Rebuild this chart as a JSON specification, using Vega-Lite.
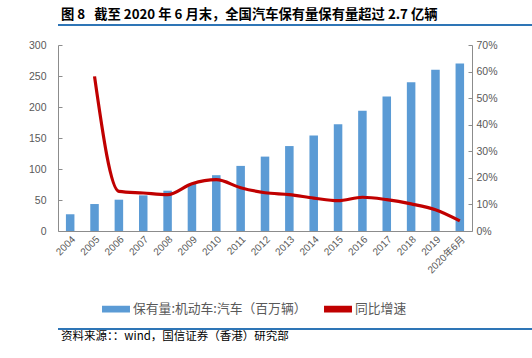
{
  "$schema": "https://vega.github.io/schema/vega-lite/v6.json",
  "padding": {"left": 0, "right": 0, "top": 7, "bottom": 0},
  "background": "white",
  "config": {
    "view": {"stroke": null},
    "font": "Noto Sans CJK SC",
    "concat": {"spacing": 14},
    "axis": {"grid": false}
  },
  "resolve": {"scale": {"x": "independent", "y": "independent"}, "axis": {"x": "independent", "y": "independent"}},
  "datasets": {
    "cars": [
      {"年份": "2004", "保有量": 27, "增速": null},
      {"年份": "2005", "保有量": 43.5, "增速": 58.2},
      {"年份": "2006", "保有量": 50.5, "增速": 14.9},
      {"年份": "2007", "保有量": 57.5, "增速": 14.3},
      {"年份": "2008", "保有量": 65, "增速": 13.7},
      {"年份": "2009", "保有量": 76, "增速": 17.8},
      {"年份": "2010", "保有量": 90, "增速": 19.3},
      {"年份": "2011", "保有量": 105, "增速": 16.3},
      {"年份": "2012", "保有量": 120, "增速": 14.4},
      {"年份": "2013", "保有量": 137, "增速": 13.7},
      {"年份": "2014", "保有量": 154, "增速": 12.4},
      {"年份": "2015", "保有量": 172, "增速": 11.4},
      {"年份": "2016", "保有量": 194, "增速": 12.7},
      {"年份": "2017", "保有量": 217, "增速": 11.8},
      {"年份": "2018", "保有量": 240, "增速": 10.2},
      {"年份": "2019", "保有量": 260, "增速": 8.0},
      {"年份": "2020年6月", "保有量": 270, "增速": 3.8}
    ],
    "band": [{"x0": 0, "x1": 1, "y0": 0, "y1": 1}]
  },
  "vconcat": [
    {
      "width": 507,
      "height": 2,
      "view": {"fill": "#2E75B6", "stroke": null},
      "data": {"name": "band"},
      "title": {
        "text": "图 8\u00a0\u00a0\u00a0截至 2020 年 6 月末，全国汽车保有量保有量超过 2.7 亿辆",
        "anchor": "start",
        "fontSize": 13.3,
        "fontWeight": "bold",
        "color": "#000000",
        "offset": 3,
        "dx": 3
      },
      "mark": {"type": "rect", "color": "#2E75B6"},
      "encoding": {
        "x": {"field": "x0", "type": "quantitative", "scale": {"domain": [0, 1]}, "axis": null},
        "x2": {"field": "x1"},
        "y": {"field": "y0", "type": "quantitative", "scale": {"domain": [0, 1]}, "axis": null},
        "y2": {"field": "y1"}
      }
    },
    {
      "width": 414,
      "height": 186,
      "data": {"name": "cars"},
      "layer": [
        {
          "mark": {"type": "bar", "color": "#5B9BD5"},
          "encoding": {
            "x": {
              "field": "年份", "type": "ordinal", "sort": null,
              "scale": {"paddingInner": 0.65, "paddingOuter": 0.325},
              "axis": {"title": "\u00a0", "titleFontSize": 10, "titlePadding": 29, "labelAngle": -45, "labelFontSize": 10, "labelColor": "#595959", "ticks": false, "domainColor": "#8C8C8C", "labelPadding": 3, "labelFont": "Liberation Sans, Noto Sans CJK SC"}
            },
            "y": {
              "field": "保有量", "type": "quantitative", "scale": {"domain": [0, 300]},
              "axis": {"title": "\u00a0", "titleFontSize": 10, "titlePadding": 18, "values": [0, 50, 100, 150, 200, 250, 300], "tickSize": -4, "labelPadding": 16, "domainColor": "#8C8C8C", "tickColor": "#8C8C8C", "labelColor": "#595959", "labelFontSize": 10.5, "labelFont": "Liberation Sans"}
            },
            "color": {
              "datum": "保有量:机动车:汽车（百万辆）",
              "scale": {"domain": ["保有量:机动车:汽车（百万辆）", "同比增速"], "range": ["#5B9BD5", "#C00000"]},
              "legend": {"orient": "none", "legendX": 44, "legendY": 271, "direction": "horizontal", "title": null, "symbolType": "M-1,-0.2H1V0.2H-1Z", "symbolSize": 700, "labelFontSize": 12.8, "labelLimit": 300, "labelColor": "#595959", "columnPadding": 14, "labelOffset": 3}
            }
          }
        },
        {
          "mark": {"type": "line", "strokeWidth": 3.2, "interpolate": "monotone"},
          "encoding": {
            "x": {"field": "年份", "type": "ordinal", "sort": null},
            "y": {
              "field": "增速", "type": "quantitative", "scale": {"domain": [0, 70]},
              "axis": {"title": null, "orient": "right", "values": [0, 10, 20, 30, 40, 50, 60, 70], "labelExpr": "datum.value + '%'", "tickSize": -4, "labelPadding": 8, "domainColor": "#8C8C8C", "tickColor": "#8C8C8C", "labelColor": "#595959", "labelFontSize": 10.5, "labelFont": "Liberation Sans"}
            },
            "color": {"datum": "同比增速"}
          }
        }
      ],
      "resolve": {"scale": {"y": "independent"}}
    },
    {
      "width": 507,
      "height": 2,
      "view": {"fill": "#2E75B6", "stroke": null},
      "data": {"name": "band"},
      "title": {
        "text": "资料来源：：wind，国信证券（香港）研究部",
        "orient": "bottom",
        "anchor": "start",
        "fontSize": 11.5,
        "fontWeight": "normal",
        "color": "#000000",
        "offset": 1,
        "dx": 3
      },
      "mark": {"type": "rect", "color": "#2E75B6"},
      "encoding": {
        "x": {"field": "x0", "type": "quantitative", "scale": {"domain": [0, 1]}, "axis": null},
        "x2": {"field": "x1"},
        "y": {"field": "y0", "type": "quantitative", "scale": {"domain": [0, 1]}, "axis": null},
        "y2": {"field": "y1"}
      }
    }
  ]
}
